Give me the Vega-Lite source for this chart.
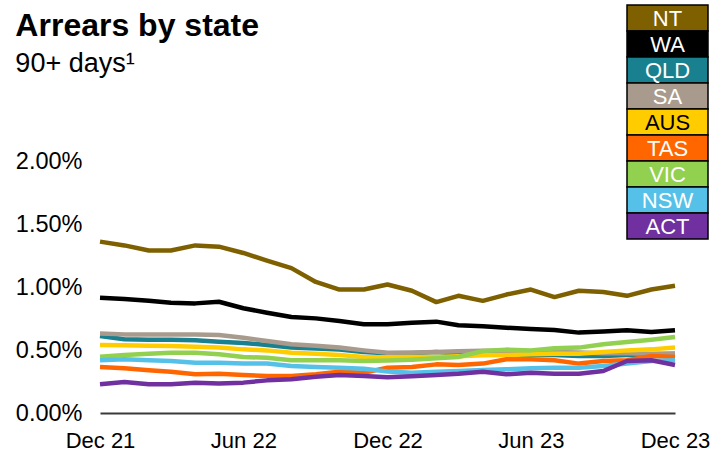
{
  "$schema": "https://vega.github.io/schema/vega-lite/v6.json",
  "width": 575,
  "height": 252,
  "padding": {"left": 15, "top": 4, "right": 0, "bottom": 0},
  "background": "white",
  "config": {"font": "Liberation Sans", "view": {"stroke": null}},
  "title": {
    "text": "Arrears by state",
    "subtitle": "90+ days¹",
    "anchor": "start",
    "frame": "bounds",
    "fontSize": 32,
    "fontWeight": "bold",
    "color": "black",
    "subtitleFontSize": 27,
    "subtitleColor": "black",
    "subtitlePadding": 8,
    "offset": -74
  },
  "data": {
    "format": {"parse": {"month": "date:'%Y-%m-%d'"}},
    "values": [
      {"month":"2021-12-01","state":"NT","value":1.36},{"month":"2022-01-01","state":"NT","value":1.33},{"month":"2022-02-01","state":"NT","value":1.29},{"month":"2022-03-01","state":"NT","value":1.29},{"month":"2022-04-01","state":"NT","value":1.33},{"month":"2022-05-01","state":"NT","value":1.32},{"month":"2022-06-01","state":"NT","value":1.27},{"month":"2022-07-01","state":"NT","value":1.21},{"month":"2022-08-01","state":"NT","value":1.15},{"month":"2022-09-01","state":"NT","value":1.04},{"month":"2022-10-01","state":"NT","value":0.98},{"month":"2022-11-01","state":"NT","value":0.98},{"month":"2022-12-01","state":"NT","value":1.02},{"month":"2023-01-01","state":"NT","value":0.97},{"month":"2023-02-01","state":"NT","value":0.88},{"month":"2023-03-01","state":"NT","value":0.93},{"month":"2023-04-01","state":"NT","value":0.89},{"month":"2023-05-01","state":"NT","value":0.94},{"month":"2023-06-01","state":"NT","value":0.98},{"month":"2023-07-01","state":"NT","value":0.92},{"month":"2023-08-01","state":"NT","value":0.97},{"month":"2023-09-01","state":"NT","value":0.96},{"month":"2023-10-01","state":"NT","value":0.93},{"month":"2023-11-01","state":"NT","value":0.98},{"month":"2023-12-01","state":"NT","value":1.01},
      {"month":"2021-12-01","state":"WA","value":0.915},{"month":"2022-01-01","state":"WA","value":0.905},{"month":"2022-02-01","state":"WA","value":0.89},{"month":"2022-03-01","state":"WA","value":0.875},{"month":"2022-04-01","state":"WA","value":0.87},{"month":"2022-05-01","state":"WA","value":0.883},{"month":"2022-06-01","state":"WA","value":0.831},{"month":"2022-07-01","state":"WA","value":0.796},{"month":"2022-08-01","state":"WA","value":0.762},{"month":"2022-09-01","state":"WA","value":0.751},{"month":"2022-10-01","state":"WA","value":0.73},{"month":"2022-11-01","state":"WA","value":0.704},{"month":"2022-12-01","state":"WA","value":0.704},{"month":"2023-01-01","state":"WA","value":0.717},{"month":"2023-02-01","state":"WA","value":0.725},{"month":"2023-03-01","state":"WA","value":0.696},{"month":"2023-04-01","state":"WA","value":0.688},{"month":"2023-05-01","state":"WA","value":0.677},{"month":"2023-06-01","state":"WA","value":0.667},{"month":"2023-07-01","state":"WA","value":0.659},{"month":"2023-08-01","state":"WA","value":0.638},{"month":"2023-09-01","state":"WA","value":0.646},{"month":"2023-10-01","state":"WA","value":0.656},{"month":"2023-11-01","state":"WA","value":0.643},{"month":"2023-12-01","state":"WA","value":0.656},
      {"month":"2021-12-01","state":"QLD","value":0.611},{"month":"2022-01-01","state":"QLD","value":0.585},{"month":"2022-02-01","state":"QLD","value":0.582},{"month":"2022-03-01","state":"QLD","value":0.582},{"month":"2022-04-01","state":"QLD","value":0.577},{"month":"2022-05-01","state":"QLD","value":0.566},{"month":"2022-06-01","state":"QLD","value":0.556},{"month":"2022-07-01","state":"QLD","value":0.54},{"month":"2022-08-01","state":"QLD","value":0.519},{"month":"2022-09-01","state":"QLD","value":0.511},{"month":"2022-10-01","state":"QLD","value":0.503},{"month":"2022-11-01","state":"QLD","value":0.484},{"month":"2022-12-01","state":"QLD","value":0.474},{"month":"2023-01-01","state":"QLD","value":0.474},{"month":"2023-02-01","state":"QLD","value":0.484},{"month":"2023-03-01","state":"QLD","value":0.471},{"month":"2023-04-01","state":"QLD","value":0.471},{"month":"2023-05-01","state":"QLD","value":0.466},{"month":"2023-06-01","state":"QLD","value":0.46},{"month":"2023-07-01","state":"QLD","value":0.46},{"month":"2023-08-01","state":"QLD","value":0.452},{"month":"2023-09-01","state":"QLD","value":0.452},{"month":"2023-10-01","state":"QLD","value":0.46},{"month":"2023-11-01","state":"QLD","value":0.466},{"month":"2023-12-01","state":"QLD","value":0.471},
      {"month":"2021-12-01","state":"SA","value":0.63},{"month":"2022-01-01","state":"SA","value":0.624},{"month":"2022-02-01","state":"SA","value":0.624},{"month":"2022-03-01","state":"SA","value":0.624},{"month":"2022-04-01","state":"SA","value":0.624},{"month":"2022-05-01","state":"SA","value":0.619},{"month":"2022-06-01","state":"SA","value":0.598},{"month":"2022-07-01","state":"SA","value":0.571},{"month":"2022-08-01","state":"SA","value":0.545},{"month":"2022-09-01","state":"SA","value":0.534},{"month":"2022-10-01","state":"SA","value":0.519},{"month":"2022-11-01","state":"SA","value":0.497},{"month":"2022-12-01","state":"SA","value":0.479},{"month":"2023-01-01","state":"SA","value":0.48},{"month":"2023-02-01","state":"SA","value":0.485},{"month":"2023-03-01","state":"SA","value":0.49},{"month":"2023-04-01","state":"SA","value":0.495},{"month":"2023-05-01","state":"SA","value":0.495},{"month":"2023-06-01","state":"SA","value":0.49},{"month":"2023-07-01","state":"SA","value":0.485},{"month":"2023-08-01","state":"SA","value":0.48},{"month":"2023-09-01","state":"SA","value":0.475},{"month":"2023-10-01","state":"SA","value":0.475},{"month":"2023-11-01","state":"SA","value":0.47},{"month":"2023-12-01","state":"SA","value":0.47},
      {"month":"2021-12-01","state":"AUS","value":0.54},{"month":"2022-01-01","state":"AUS","value":0.537},{"month":"2022-02-01","state":"AUS","value":0.534},{"month":"2022-03-01","state":"AUS","value":0.532},{"month":"2022-04-01","state":"AUS","value":0.526},{"month":"2022-05-01","state":"AUS","value":0.519},{"month":"2022-06-01","state":"AUS","value":0.505},{"month":"2022-07-01","state":"AUS","value":0.497},{"month":"2022-08-01","state":"AUS","value":0.479},{"month":"2022-09-01","state":"AUS","value":0.471},{"month":"2022-10-01","state":"AUS","value":0.46},{"month":"2022-11-01","state":"AUS","value":0.444},{"month":"2022-12-01","state":"AUS","value":0.442},{"month":"2023-01-01","state":"AUS","value":0.444},{"month":"2023-02-01","state":"AUS","value":0.444},{"month":"2023-03-01","state":"AUS","value":0.45},{"month":"2023-04-01","state":"AUS","value":0.458},{"month":"2023-05-01","state":"AUS","value":0.46},{"month":"2023-06-01","state":"AUS","value":0.466},{"month":"2023-07-01","state":"AUS","value":0.471},{"month":"2023-08-01","state":"AUS","value":0.471},{"month":"2023-09-01","state":"AUS","value":0.484},{"month":"2023-10-01","state":"AUS","value":0.497},{"month":"2023-11-01","state":"AUS","value":0.505},{"month":"2023-12-01","state":"AUS","value":0.519},
      {"month":"2021-12-01","state":"TAS","value":0.365},{"month":"2022-01-01","state":"TAS","value":0.355},{"month":"2022-02-01","state":"TAS","value":0.339},{"month":"2022-03-01","state":"TAS","value":0.328},{"month":"2022-04-01","state":"TAS","value":0.307},{"month":"2022-05-01","state":"TAS","value":0.312},{"month":"2022-06-01","state":"TAS","value":0.302},{"month":"2022-07-01","state":"TAS","value":0.294},{"month":"2022-08-01","state":"TAS","value":0.294},{"month":"2022-09-01","state":"TAS","value":0.307},{"month":"2022-10-01","state":"TAS","value":0.328},{"month":"2022-11-01","state":"TAS","value":0.32},{"month":"2022-12-01","state":"TAS","value":0.36},{"month":"2023-01-01","state":"TAS","value":0.365},{"month":"2023-02-01","state":"TAS","value":0.386},{"month":"2023-03-01","state":"TAS","value":0.381},{"month":"2023-04-01","state":"TAS","value":0.392},{"month":"2023-05-01","state":"TAS","value":0.426},{"month":"2023-06-01","state":"TAS","value":0.426},{"month":"2023-07-01","state":"TAS","value":0.418},{"month":"2023-08-01","state":"TAS","value":0.392},{"month":"2023-09-01","state":"TAS","value":0.413},{"month":"2023-10-01","state":"TAS","value":0.418},{"month":"2023-11-01","state":"TAS","value":0.452},{"month":"2023-12-01","state":"TAS","value":0.444},
      {"month":"2021-12-01","state":"VIC","value":0.447},{"month":"2022-01-01","state":"VIC","value":0.46},{"month":"2022-02-01","state":"VIC","value":0.471},{"month":"2022-03-01","state":"VIC","value":0.479},{"month":"2022-04-01","state":"VIC","value":0.479},{"month":"2022-05-01","state":"VIC","value":0.466},{"month":"2022-06-01","state":"VIC","value":0.444},{"month":"2022-07-01","state":"VIC","value":0.439},{"month":"2022-08-01","state":"VIC","value":0.418},{"month":"2022-09-01","state":"VIC","value":0.418},{"month":"2022-10-01","state":"VIC","value":0.418},{"month":"2022-11-01","state":"VIC","value":0.413},{"month":"2022-12-01","state":"VIC","value":0.416},{"month":"2023-01-01","state":"VIC","value":0.423},{"month":"2023-02-01","state":"VIC","value":0.434},{"month":"2023-03-01","state":"VIC","value":0.444},{"month":"2023-04-01","state":"VIC","value":0.492},{"month":"2023-05-01","state":"VIC","value":0.503},{"month":"2023-06-01","state":"VIC","value":0.497},{"month":"2023-07-01","state":"VIC","value":0.513},{"month":"2023-08-01","state":"VIC","value":0.519},{"month":"2023-09-01","state":"VIC","value":0.545},{"month":"2023-10-01","state":"VIC","value":0.563},{"month":"2023-11-01","state":"VIC","value":0.582},{"month":"2023-12-01","state":"VIC","value":0.603},
      {"month":"2021-12-01","state":"NSW","value":0.418},{"month":"2022-01-01","state":"NSW","value":0.426},{"month":"2022-02-01","state":"NSW","value":0.418},{"month":"2022-03-01","state":"NSW","value":0.413},{"month":"2022-04-01","state":"NSW","value":0.399},{"month":"2022-05-01","state":"NSW","value":0.399},{"month":"2022-06-01","state":"NSW","value":0.392},{"month":"2022-07-01","state":"NSW","value":0.392},{"month":"2022-08-01","state":"NSW","value":0.373},{"month":"2022-09-01","state":"NSW","value":0.365},{"month":"2022-10-01","state":"NSW","value":0.36},{"month":"2022-11-01","state":"NSW","value":0.352},{"month":"2022-12-01","state":"NSW","value":0.33},{"month":"2023-01-01","state":"NSW","value":0.32},{"month":"2023-02-01","state":"NSW","value":0.328},{"month":"2023-03-01","state":"NSW","value":0.333},{"month":"2023-04-01","state":"NSW","value":0.341},{"month":"2023-05-01","state":"NSW","value":0.347},{"month":"2023-06-01","state":"NSW","value":0.355},{"month":"2023-07-01","state":"NSW","value":0.36},{"month":"2023-08-01","state":"NSW","value":0.36},{"month":"2023-09-01","state":"NSW","value":0.373},{"month":"2023-10-01","state":"NSW","value":0.392},{"month":"2023-11-01","state":"NSW","value":0.413},{"month":"2023-12-01","state":"NSW","value":0.418},
      {"month":"2021-12-01","state":"ACT","value":0.228},{"month":"2022-01-01","state":"ACT","value":0.246},{"month":"2022-02-01","state":"ACT","value":0.228},{"month":"2022-03-01","state":"ACT","value":0.228},{"month":"2022-04-01","state":"ACT","value":0.241},{"month":"2022-05-01","state":"ACT","value":0.235},{"month":"2022-06-01","state":"ACT","value":0.241},{"month":"2022-07-01","state":"ACT","value":0.259},{"month":"2022-08-01","state":"ACT","value":0.267},{"month":"2022-09-01","state":"ACT","value":0.288},{"month":"2022-10-01","state":"ACT","value":0.302},{"month":"2022-11-01","state":"ACT","value":0.294},{"month":"2022-12-01","state":"ACT","value":0.283},{"month":"2023-01-01","state":"ACT","value":0.291},{"month":"2023-02-01","state":"ACT","value":0.302},{"month":"2023-03-01","state":"ACT","value":0.312},{"month":"2023-04-01","state":"ACT","value":0.328},{"month":"2023-05-01","state":"ACT","value":0.307},{"month":"2023-06-01","state":"ACT","value":0.32},{"month":"2023-07-01","state":"ACT","value":0.312},{"month":"2023-08-01","state":"ACT","value":0.312},{"month":"2023-09-01","state":"ACT","value":0.333},{"month":"2023-10-01","state":"ACT","value":0.413},{"month":"2023-11-01","state":"ACT","value":0.418},{"month":"2023-12-01","state":"ACT","value":0.381}
    ]
  },
  "layer": [
    {
      "mark": {"type": "line", "strokeWidth": 4.5, "strokeJoin": "round", "strokeCap": "butt"},
      "encoding": {
        "x": {
          "field": "month",
          "type": "temporal",
          "scale": {"domain": [{"year": 2021, "month": 12, "date": 1}, {"year": 2023, "month": 12, "date": 1}], "nice": false},
          "axis": {
            "title": null,
            "values": [{"year": 2021, "month": 12, "date": 1}, {"year": 2022, "month": 6, "date": 1}, {"year": 2022, "month": 12, "date": 1}, {"year": 2023, "month": 6, "date": 1}, {"year": 2023, "month": 12, "date": 1}],
            "format": "%b %y",
            "grid": false,
            "ticks": false,
            "tickSize": 0,
            "domain": true,
            "domainColor": "#3a3a3a",
            "domainWidth": 2,
            "labelFontSize": 22,
            "labelColor": "black",
            "labelPadding": 17,
            "labelFlush": false,
            "labelOverlap": false
          }
        },
        "y": {
          "field": "value",
          "type": "quantitative",
          "scale": {"domain": [0, 2], "nice": false, "zero": true},
          "axis": {
            "title": null,
            "values": [0, 0.5, 1, 1.5, 2],
            "labelExpr": "format(datum.value, '.2f') + '%'",
            "grid": false,
            "ticks": false,
            "tickSize": 0,
            "domain": false,
            "labelFontSize": 23.5,
            "labelColor": "black",
            "labelPadding": 18
          }
        },
        "color": {
          "field": "state",
          "type": "nominal",
          "scale": {
            "domain": ["NT", "WA", "QLD", "SA", "AUS", "TAS", "VIC", "NSW", "ACT"],
            "range": ["#7F6000", "#000000", "#18808F", "#A89B8D", "#FFCC00", "#FF6600", "#92D050", "#56C1E8", "#7030A0"]
          },
          "legend": null
        }
      }
    },
    {
      "transform": [{"aggregate": [{"op": "count", "as": "n"}], "groupby": ["state"]}],
      "mark": {"type": "rect", "stroke": "black", "strokeWidth": 1.5},
      "encoding": {
        "x": {"datum": "legend", "type": "nominal", "scale": {"type": "band", "domain": ["legend"], "range": [527, 608], "paddingInner": 0, "paddingOuter": 0}, "axis": null},
        "y": {"field": "state", "type": "nominal", "scale": {"type": "band", "domain": ["NT", "WA", "QLD", "SA", "AUS", "TAS", "VIC", "NSW", "ACT"], "range": [-156, 78], "paddingInner": 0, "paddingOuter": 0}, "axis": null},
        "color": {"field": "state", "type": "nominal", "legend": null}
      }
    },
    {
      "transform": [{"aggregate": [{"op": "count", "as": "n"}], "groupby": ["state"]}],
      "mark": {"type": "text", "fontSize": 22, "align": "center", "baseline": "middle", "dy": 1},
      "encoding": {
        "x": {"datum": "legend", "type": "nominal", "scale": {"type": "band", "domain": ["legend"], "range": [527, 608], "paddingInner": 0, "paddingOuter": 0}, "axis": null},
        "y": {"field": "state", "type": "nominal", "scale": {"type": "band", "domain": ["NT", "WA", "QLD", "SA", "AUS", "TAS", "VIC", "NSW", "ACT"], "range": [-156, 78], "paddingInner": 0, "paddingOuter": 0}, "axis": null},
        "text": {"field": "state"},
        "color": {"condition": {"test": "datum.state === 'AUS'", "value": "black"}, "value": "white"}
      }
    }
  ],
  "resolve": {"scale": {"x": "independent", "y": "independent"}}
}
